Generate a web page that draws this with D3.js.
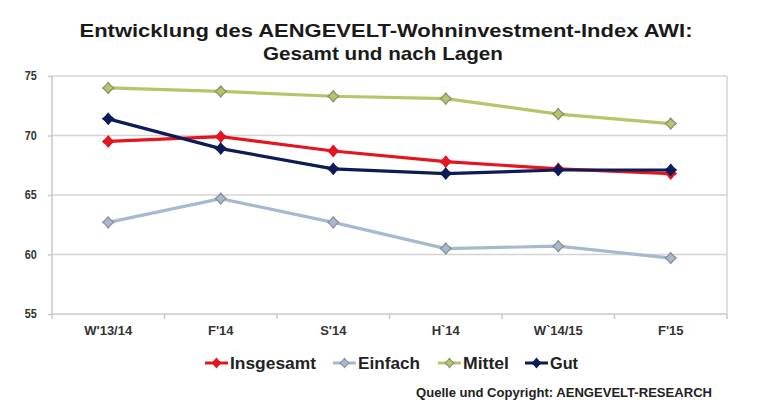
<!DOCTYPE html>
<meta charset="utf-8">
<style>
body { margin: 0; background: #fff; }
svg { font-family: "Liberation Sans", Arial, sans-serif; font-weight: bold; }
.grid line { stroke: #d4d4d4; stroke-width: 1.5px; }
.axis path, .axis line { stroke: #c8c8c8; stroke-width: 1.5px; }
.axis text { fill: #333; font-weight: bold; }
</style>
<svg width="762" height="407"></svg>
<script src="https://cdn.jsdelivr.net/npm/d3@7/dist/d3.min.js"></script>
<script>

var categories = ["W'13/14", "F'14", "S'14", "H`14", "W`14/15", "F'15"]
var insgesamt = [69.5, 69.9, 68.7, 67.8, 67.2, 66.8]
var einfach   = [62.7, 64.7, 62.7, 60.5, 60.7, 59.7]
var mittel    = [74.0, 73.7, 73.3, 73.1, 71.8, 71.0]
var gut       = [71.4, 68.9, 67.2, 66.8, 67.1, 67.1]
var yTicks = [55, 60, 65, 70, 75]

var series = [
    {name: 'Insgesamt', values: insgesamt, color: '#e3161f', mstroke: '#e3161f'},
    {name: 'Einfach',   values: einfach,   color: '#a7b9d1', mstroke: '#8a8f96'},
    {name: 'Mittel',    values: mittel,    color: '#b3c66a', mstroke: '#8a9070'},
    {name: 'Gut',       values: gut,       color: '#0d1c57', mstroke: '#0d1c57'}
]

var plot = {left: 52, right: 727, top: 76, bottom: 314}

var svg = d3.select('svg')

var x = d3.scaleBand().domain(categories).range([plot.left, plot.right])
var y = d3.scaleLinear().domain([55, 75]).range([plot.bottom, plot.top])

// title (condensed look, like the original)
var title = svg.append('g')
title.append('text')
    .attr('x', 386).attr('y', 37)
    .attr('text-anchor', 'middle')
    .attr('font-size', 18.5)
    .attr('textLength', 613).attr('lengthAdjust', 'spacingAndGlyphs')
    .attr('fill', '#1a1a1a')
    .text('Entwicklung des AENGEVELT-Wohninvestment-Index AWI:')
title.append('text')
    .attr('x', 383).attr('y', 60)
    .attr('text-anchor', 'middle')
    .attr('font-size', 18.5)
    .attr('textLength', 240).attr('lengthAdjust', 'spacingAndGlyphs')
    .attr('fill', '#1a1a1a')
    .text('Gesamt und nach Lagen')

// gridlines
svg.append('g').attr('class', 'grid')
    .selectAll('line')
    .data(yTicks.slice(1))
    .enter().append('line')
    .attr('x1', plot.left).attr('x2', plot.right)
    .attr('y1', d => y(d)).attr('y2', d => y(d))

// right border of plot
svg.append('line')
    .attr('x1', plot.right).attr('x2', plot.right)
    .attr('y1', plot.top).attr('y2', plot.bottom)
    .attr('stroke', '#d4d4d4').attr('stroke-width', 1.5)

// y axis
var gY = svg.append('g').attr('class', 'axis')
    .attr('transform', 'translate(' + plot.left + ',0)')
    .call(d3.axisLeft(y).tickValues(yTicks).tickSize(4).tickPadding(13))
gY.select('.domain').attr('d', 'M0,' + plot.top + 'V' + plot.bottom)
gY.selectAll('text').attr('font-size', 12).attr('transform', 'scale(0.9,1)')

// x axis, ticks on category borders
var gX = svg.append('g').attr('class', 'axis')
    .attr('transform', 'translate(0,' + plot.bottom + ')')
    .call(d3.axisBottom(x).tickSize(0).tickPadding(12))
gX.select('.domain').attr('d', 'M' + plot.left + ',0H' + plot.right)
gX.selectAll('text').attr('font-size', 13)
gX.selectAll('.border')
    .data(d3.range(categories.length + 1))
    .enter().append('line')
    .attr('class', 'border')
    .attr('x1', i => plot.left + i * x.bandwidth())
    .attr('x2', i => plot.left + i * x.bandwidth())
    .attr('y1', 0).attr('y2', 5)

var cx = d => x(d) + x.bandwidth() / 2

var line = d3.line()
    .x((d, i) => cx(categories[i]))
    .y(d => y(d))

var marker = 'M0,-5.5L2.5,-2.5L5.5,0L2.5,2.5L0,5.5L-2.5,2.5L-5.5,0L-2.5,-2.5Z'

// draw order: Einfach, Mittel, Insgesamt, Gut
var order = [series[1], series[2], series[0], series[3]]
order.forEach(function (s) {
    var g = svg.append('g')
    g.append('path')
        .attr('d', line(s.values))
        .attr('fill', 'none')
        .attr('stroke', s.color)
        .attr('stroke-width', 3.2)
    g.selectAll('path.m')
        .data(s.values)
        .enter().append('path')
        .attr('class', 'm')
        .attr('d', marker)
        .attr('transform', (d, i) => 'translate(' + cx(categories[i]) + ',' + y(d) + ')')
        .attr('fill', s.color)
        .attr('stroke', s.mstroke)
        .attr('stroke-width', 1.3)
})

// legend
var legendX = [205, 333, 438, 525]
var legendW = [86, 62, 46, 28]
var legend = svg.append('g')
series.forEach(function (s, i) {
    var lg = legend.append('g').attr('transform', 'translate(' + legendX[i] + ',363)')
    lg.append('line')
        .attr('x1', 0).attr('x2', 23)
        .attr('stroke', s.color).attr('stroke-width', 3)
    lg.append('path')
        .attr('d', marker)
        .attr('transform', 'translate(11.5,0) scale(0.85)')
        .attr('fill', s.color)
        .attr('stroke', s.mstroke)
        .attr('stroke-width', 1.2)
    lg.append('text')
        .attr('x', 25).attr('y', 6)
        .attr('font-size', 17)
        .attr('textLength', legendW[i]).attr('lengthAdjust', 'spacingAndGlyphs')
        .attr('fill', '#222')
        .text(s.name)
})

// source
svg.append('text')
    .attr('x', 712).attr('y', 397)
    .attr('text-anchor', 'end')
    .attr('font-size', 12.5)
    .attr('textLength', 296).attr('lengthAdjust', 'spacingAndGlyphs')
    .attr('fill', '#222')
    .text('Quelle und Copyright: AENGEVELT-RESEARCH')

</script>
